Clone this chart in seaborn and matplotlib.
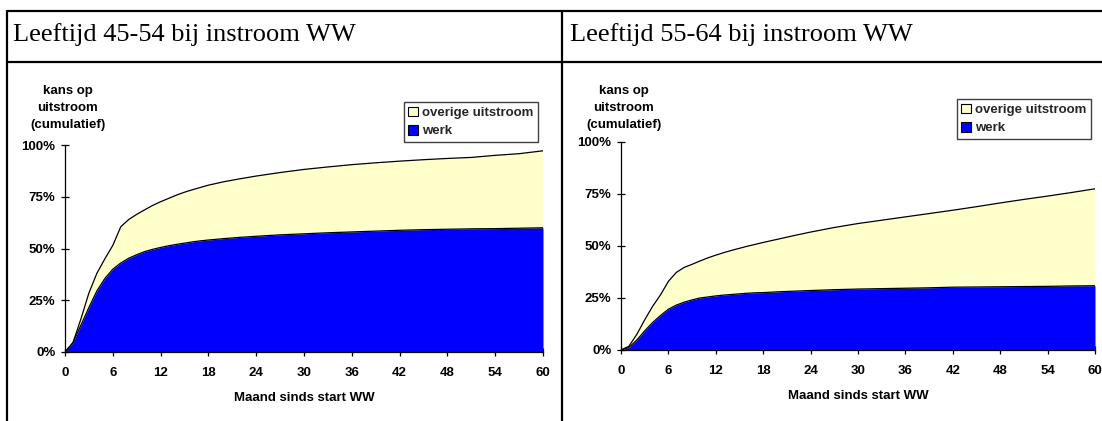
import matplotlib
matplotlib.use("Agg")
import matplotlib.pyplot as plt
from matplotlib.lines import Line2D
from matplotlib.patches import Patch
from matplotlib.ticker import FuncFormatter
import numpy as np
import pandas as pd
import seaborn as sns

# ---- data: cumulative outflow probability (%) by month since start of WW ----
months = [0, 1, 2, 3, 4, 5, 6, 7, 8, 9, 10, 11, 12, 13, 14, 15, 16, 17, 18,
          20, 22, 24, 27, 30, 33, 36, 39, 42, 45, 48, 51, 54, 57, 60]

# age 45-54
total_45 = [0, 4.5, 16, 28.5, 38, 45, 51.5, 60.5, 64, 66.5, 68.7, 70.8, 72.6,
            74.2, 75.8, 77.2, 78.4, 79.5, 80.6, 82.3, 83.7, 85, 86.7, 88.2,
            89.4, 90.5, 91.4, 92.2, 92.9, 93.5, 94.0, 95.0, 95.8, 97.2]
werk_45 = [0, 4.5, 13, 21.5, 29.5, 35.5, 40, 43, 45.3, 47, 48.5, 49.6, 50.5,
           51.3, 52, 52.6, 53.2, 53.7, 54.1, 54.8, 55.4, 55.9, 56.6, 57.1,
           57.6, 58, 58.4, 58.8, 59.1, 59.3, 59.5, 59.6, 59.8, 60]

# age 55-64
total_55 = [0, 1.8, 7.5, 14.5, 21, 26.5, 33, 37.3, 39.7, 41.2, 42.8, 44.3,
            45.6, 46.8, 47.9, 48.9, 49.9, 50.8, 51.7, 53.4, 55.1, 56.7, 58.9,
            60.8, 62.4, 64, 65.6, 67.2, 68.9, 70.7, 72.4, 74, 75.7, 77.5]
werk_55 = [0, 1.2, 4.8, 9.2, 13.2, 16.6, 19.6, 21.6, 23, 24.1, 25, 25.5, 26,
           26.4, 26.7, 27, 27.3, 27.5, 27.6, 28, 28.3, 28.6, 29, 29.3, 29.5,
           29.7, 29.9, 30.2, 30.3, 30.4, 30.5, 30.6, 30.8, 30.9]

titles = ["Leeftijd 45-54 bij instroom WW", "Leeftijd 55-64 bij instroom WW"]
series_labels = ["overige uitstroom", "werk"]
x_ticks = list(range(0, 61, 6))
y_ticks = [0, 25, 50, 75, 100]
y_title = "kans op\nuitstroom\n(cumulatief)"
x_title = "Maand sinds start WW"

YELLOW = "#FFFFCC"
BLUE = "#0000FF"

sns.set_theme(style="white")
plt.rcParams["font.family"] = ["Liberation Sans", "DejaVu Sans"]
plt.rcParams["font.weight"] = "bold"

W, H = 1102, 421
fig = plt.figure(figsize=(W / 100, H / 100), dpi=100)
fig.patch.set_facecolor("white")


def fx(px):
    return px / W


def fy(py):
    return 1 - py / H


# panel frame
frame_kw = dict(color="black", linewidth=1.6, transform=fig.transFigure)
fig.add_artist(Line2D([fx(7), fx(7)], [fy(11), fy(H)], **frame_kw))
fig.add_artist(Line2D([fx(562), fx(562)], [fy(11), fy(H)], **frame_kw))
fig.add_artist(Line2D([fx(7), 1], [fy(11), fy(11)], **frame_kw))
fig.add_artist(Line2D([fx(7), 1], [fy(62), fy(62)], **frame_kw))

panels = [
    dict(box=(65, 543, 145, 352), total=total_45, werk=werk_45,
         title_x=13, legend=(538, 102)),
    dict(box=(621, 1095, 142, 350), total=total_55, werk=werk_55,
         title_x=570, legend=(1091, 99)),
]

for title, p in zip(titles, panels):
    x0, x1, y0, y1 = p["box"]
    ax = fig.add_axes([fx(x0), fy(y1), fx(x1 - x0), (y1 - y0) / H])
    df = pd.DataFrame({"maand": months, "totaal": p["total"], "werk": p["werk"]})

    ax.fill_between(df["maand"], df["werk"], df["totaal"], color=YELLOW,
                    linewidth=0, zorder=1)
    ax.fill_between(df["maand"], 0, df["werk"], color=BLUE, linewidth=0,
                    zorder=2)
    sns.lineplot(data=df, x="maand", y="totaal", ax=ax, color="black",
                 linewidth=0.9, zorder=3)
    sns.lineplot(data=df, x="maand", y="werk", ax=ax, color="black",
                 linewidth=0.9, zorder=3)

    ax.set_xlim(0, 60)
    ax.set_ylim(0, 100)
    ax.set_xticks(x_ticks)
    ax.set_yticks(y_ticks)
    ax.yaxis.set_major_formatter(FuncFormatter(lambda v, _: f"{v:.0f}%"))
    ax.tick_params(axis="both", which="major", bottom=True, left=True,
                   direction="inout", length=6, width=0.9,
                   color="black", labelsize=9.5, labelcolor="black")
    ax.tick_params(axis="x", pad=7.5)
    ax.tick_params(axis="y", pad=4)
    for lab in ax.get_xticklabels() + ax.get_yticklabels():
        lab.set_fontweight("bold")
    for side in ("top", "right"):
        ax.spines[side].set_visible(False)
    for side in ("left", "bottom"):
        ax.spines[side].set_color("black")
        ax.spines[side].set_linewidth(0.9)
    ax.set_facecolor("white")
    ax.grid(False)
    ax.set_ylabel("")
    ax.set_xlabel(x_title, fontsize=9.5, fontweight="bold", color="black",
                  labelpad=9.5)

    fig.text(fx(p["title_x"]), fy(41), title, family=["Liberation Serif"],
             fontsize=19, fontweight="normal", color="black", va="baseline",
             ha="left")
    fig.text(fx(x0 + 3), fy(108), y_title, fontsize=9.5, fontweight="bold",
             color="black", ha="center", va="center", linespacing=1.55)

    handles = [Patch(facecolor=YELLOW, edgecolor="black", linewidth=0.8),
               Patch(facecolor=BLUE, edgecolor="black", linewidth=0.8)]
    lx, ly = p["legend"]
    leg = fig.legend(handles, series_labels, loc="upper right",
                     bbox_to_anchor=(fx(lx), fy(ly)),
                     bbox_transform=fig.transFigure, borderaxespad=0,
                     frameon=True, fancybox=False, framealpha=1,
                     edgecolor="#404040", handlelength=0.75, handleheight=0.75,
                     handletextpad=0.3, labelspacing=0.45, borderpad=0.35,
                     prop=dict(size=9.5, weight="bold"))
    leg.get_frame().set_linewidth(1.0)

fig.savefig("out.png", dpi=100, facecolor="white")
